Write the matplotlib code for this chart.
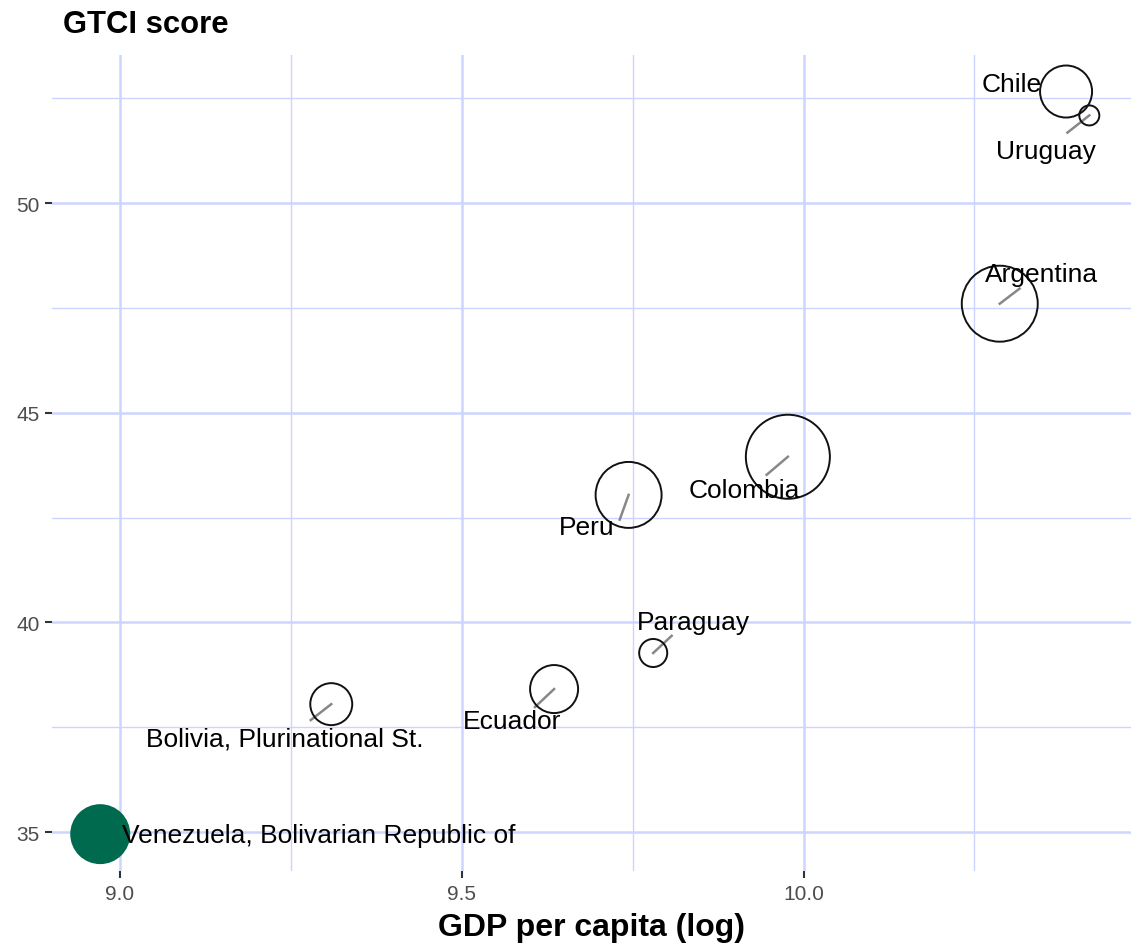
import numpy as np
import matplotlib.pyplot as plt

plt.rcParams['font.family'] = ['Liberation Sans', 'DejaVu Sans']

countries = ['Venezuela, Bolivarian Republic of', 'Bolivia, Plurinational St.', 'Ecuador',
             'Paraguay', 'Peru', 'Colombia', 'Argentina', 'Chile', 'Uruguay']
gdp_log = [8.971, 9.309, 9.635, 9.780, 9.744, 9.977, 10.287, 10.384, 10.418]
gtci = [34.95, 38.05, 38.41, 39.27, 43.04, 43.95, 47.60, 52.66, 52.09]
population = [25.8, 13.0, 16.8, 6.2, 31.1, 50.0, 41.0, 19.6, 3.5]
highlight = [True, False, False, False, False, False, False, False, False]

# label positions (repelled) and segment end points
label_xy = {
    'Venezuela, Bolivarian Republic of': (9.0035, 34.93),
    'Bolivia, Plurinational St.': (9.241, 37.24),
    'Ecuador': (9.573, 37.65),
    'Paraguay': (9.839, 40.01),
    'Peru': (9.683, 42.28),
    'Colombia': (9.914, 43.16),
    'Argentina': (10.348, 48.32),
    'Chile': (10.304, 52.83),
    'Uruguay': (10.354, 51.25),
}
seg_end = {
    'Bolivia, Plurinational St.': (9.279, 37.67),
    'Ecuador': (9.607, 37.98),
    'Paraguay': (9.807, 39.68),
    'Peru': (9.731, 42.45),
    'Colombia': (9.946, 43.52),
    'Argentina': (10.316, 47.96),
    'Uruguay': (10.386, 51.68),
}

fig = plt.figure(figsize=(11.31, 9.45), dpi=100)
ax = fig.add_axes([0.046, 0.0772, 0.954, 0.8635])

ax.set_xlim(8.9005, 10.479)
ax.set_ylim(34.07, 53.53)

grid_col = '#ccd5ff'
ax.set_xticks([9.0, 9.5, 10.0])
ax.set_yticks([35, 40, 45, 50])
ax.set_xticks([9.25, 9.75, 10.25], minor=True)
ax.set_yticks([37.5, 42.5, 47.5, 52.5], minor=True)
ax.grid(which='major', color=grid_col, linewidth=1.8)
ax.grid(which='minor', color=grid_col, linewidth=1.0)
ax.set_axisbelow(True)
for s in ax.spines.values():
    s.set_visible(False)
ax.tick_params(which='major', length=5, width=1.5, color='#333333',
               labelsize=15, labelcolor='#4d4d4d', pad=4)
ax.tick_params(which='minor', length=0)
ax.set_xticklabels(['9.0', '9.5', '10.0'])

# bubble area linear in population
area = np.array(population) * 35.8 - 25
radius_px = np.sqrt(area)
sizes = (2 * radius_px * 0.72) ** 2

for i, c in enumerate(countries):
    if c in seg_end:
        ex, ey = seg_end[c]
        ax.plot([gdp_log[i], ex], [gtci[i], ey], color='#888888', lw=1.8, zorder=2)
    if highlight[i]:
        ax.scatter(gdp_log[i], gtci[i], s=sizes[i], color='#006a4e', edgecolor='none', zorder=3)
    else:
        ax.scatter(gdp_log[i], gtci[i], s=sizes[i], facecolor='none', edgecolor='#111111',
                   linewidth=1.4, zorder=3)
    lx, ly = label_xy[c]
    ha = 'left' if highlight[i] else 'center'
    ax.text(lx, ly, c, ha=ha, va='center', fontsize=19, color='black', zorder=4)

ax.set_xlabel('GDP per capita (log)', fontsize=23, fontweight='bold', labelpad=7)
fig.text(63 / 1131, 1 - 25 / 945, 'GTCI score', fontsize=22.3, fontweight='bold',
         ha='left', va='center')

fig.savefig('out.png', dpi=100)
